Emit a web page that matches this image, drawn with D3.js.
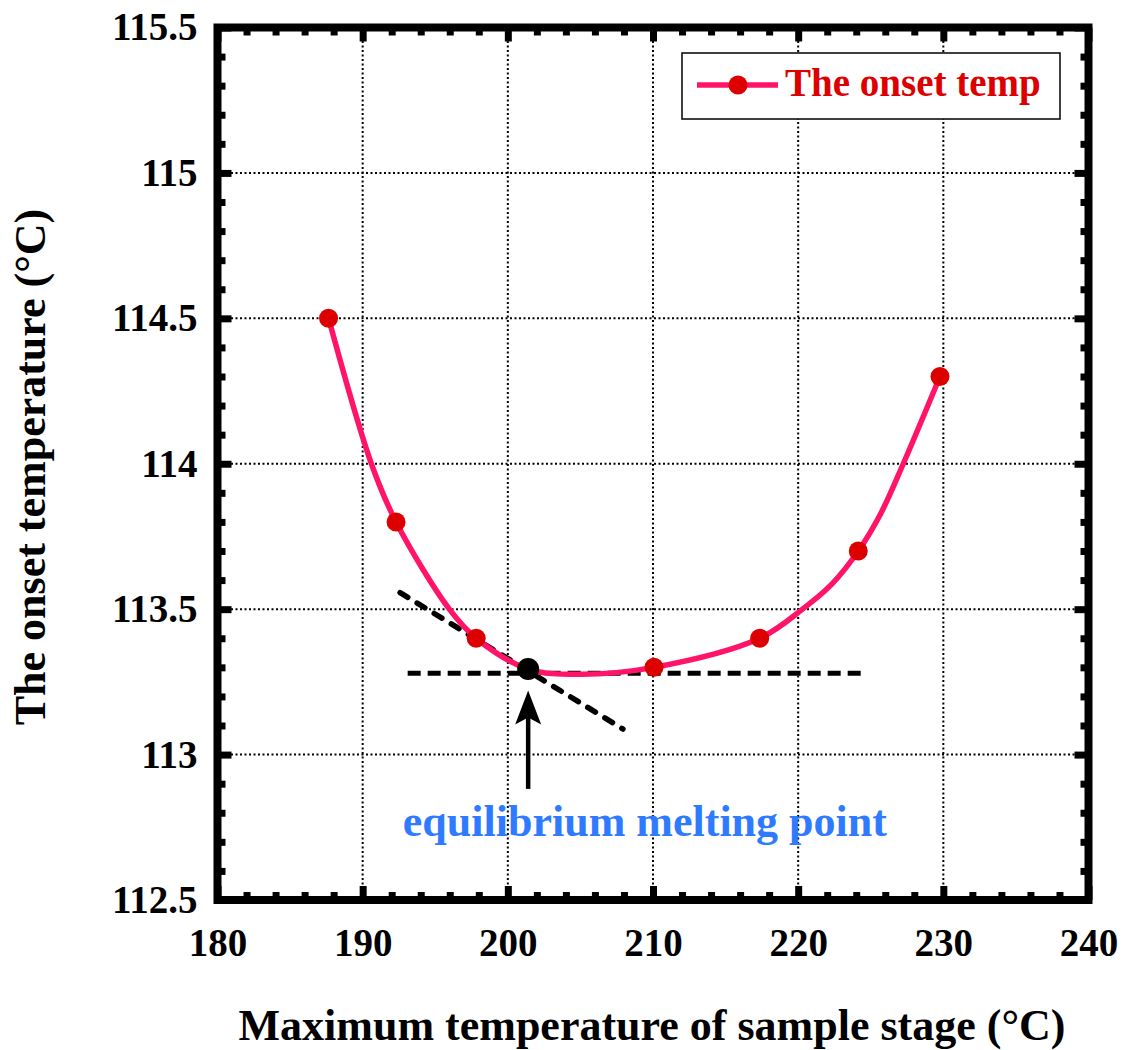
<!DOCTYPE html>
<html>
<head>
<meta charset="utf-8">
<script src="https://cdn.jsdelivr.net/npm/d3@7"></script>
<style>
  body { margin: 0; background: #fff; }
  svg text { font-family: "Liberation Serif", "DejaVu Serif", serif !important; font-weight: bold; }
</style>
</head>
<body>
<div id="chart"></div>
<script>
// measured onset temperatures
let stageTemp = [187.65, 192.3, 197.82, 210.07, 217.35, 224.14, 229.77];
let onsetTemp = [114.5, 113.8, 113.4, 113.3, 113.4, 113.7, 114.3];

// fitted curve
let fitX = [187.65, 190.6, 192.3, 195.97, 197.82, 201.4, 205.0, 210.07, 217.35, 220.3, 222.3, 224.14, 225.7, 227.24, 229.77];
let fitY = [114.5, 114.0, 113.8, 113.5, 113.4, 113.294, 113.276, 113.3, 113.4, 113.5, 113.585, 113.7, 113.83, 114.0, 114.3];

// construction lines
let tangentLine = [[192.58, 113.557], [207.93, 113.088]];
let flatLine = [[193.1, 113.28], [224.5, 113.28]];
let eqPoint = [201.4, 113.294];

let xTicks = [180, 190, 200, 210, 220, 230, 240];
let yTicks = [112.5, 113, 113.5, 114, 114.5, 115, 115.5];
let xGrid = [190, 200, 210, 220, 230];
let yGrid = [113, 113.5, 114, 114.5, 115];

let width = 1127, height = 1050;
let serif = '"Liberation Serif", "DejaVu Serif", serif';

let svg = d3.select("#chart").append("svg")
    .attr("width", width)
    .attr("height", height)
    .attr("font-family", serif);

let x = d3.scaleLinear().domain([180, 240]).range([217.5, 1088.5]);
let y = d3.scaleLinear().domain([112.5, 115.5]).range([900, 27.5]);

let xMinor = d3.range(180, 241, 2).filter(d => d % 10 !== 0);
let yMinor = d3.range(1125, 1156, 1).map(d => d / 10).filter(d => Math.round(d * 10) % 5 !== 0);

// grid
svg.append("g").selectAll("line.gx")
    .data(xGrid).enter().append("line")
    .attr("x1", d => x(d)).attr("x2", d => x(d))
    .attr("y1", y(115.5)).attr("y2", y(112.5))
    .attr("stroke", "#000").attr("stroke-width", 2)
    .attr("stroke-dasharray", "2,2.5");
svg.append("g").selectAll("line.gy")
    .data(yGrid).enter().append("line")
    .attr("x1", x(180)).attr("x2", x(240))
    .attr("y1", d => y(d)).attr("y2", d => y(d))
    .attr("stroke", "#000").attr("stroke-width", 2)
    .attr("stroke-dasharray", "2,2.5");

// axes, ticks pointing inward
function styleAxis(g) {
    g.attr("font-family", serif);
    g.select(".domain").remove();
    g.selectAll(".tick line").attr("stroke", "#000").attr("stroke-width", 7);
    g.selectAll(".tick text").attr("fill", "#000")
        .style("font-weight", "bold").style("font-size", "39px");
}

svg.append("g").attr("transform", `translate(0,${y(112.5)})`)
    .call(d3.axisBottom(x).tickValues(xTicks).tickSize(-14).tickPadding(28).tickFormat(d => d))
    .call(styleAxis);
svg.append("g").attr("transform", `translate(0,${y(112.5)})`)
    .call(d3.axisBottom(x).tickValues(xMinor).tickSize(-8).tickFormat(""))
    .call(styleAxis);
svg.append("g").attr("transform", `translate(0,${y(115.5)})`)
    .call(d3.axisTop(x).tickValues(xTicks).tickSize(-14).tickFormat(""))
    .call(styleAxis);
svg.append("g").attr("transform", `translate(0,${y(115.5)})`)
    .call(d3.axisTop(x).tickValues(xMinor).tickSize(-8).tickFormat(""))
    .call(styleAxis);

svg.append("g").attr("transform", `translate(${x(180)},0)`)
    .call(d3.axisLeft(y).tickValues(yTicks).tickSize(-14).tickPadding(20).tickFormat(d => String(d)))
    .call(styleAxis);
svg.append("g").attr("transform", `translate(${x(180)},0)`)
    .call(d3.axisLeft(y).tickValues(yMinor).tickSize(-8).tickFormat(""))
    .call(styleAxis);
svg.append("g").attr("transform", `translate(${x(240)},0)`)
    .call(d3.axisRight(y).tickValues(yTicks).tickSize(-14).tickFormat(""))
    .call(styleAxis);
svg.append("g").attr("transform", `translate(${x(240)},0)`)
    .call(d3.axisRight(y).tickValues(yMinor).tickSize(-8).tickFormat(""))
    .call(styleAxis);

// frame
svg.append("rect")
    .attr("x", x(180)).attr("y", y(115.5))
    .attr("width", x(240) - x(180)).attr("height", y(112.5) - y(115.5))
    .attr("fill", "none").attr("stroke", "#000").attr("stroke-width", 8);

// dashed construction lines
let line = d3.line().x(d => x(d[0])).y(d => y(d[1]));
svg.append("path").attr("d", line(flatLine))
    .attr("fill", "none").attr("stroke", "#000").attr("stroke-width", 5)
    .attr("stroke-dasharray", "13,7");
svg.append("path").attr("d", line(tangentLine))
    .attr("fill", "none").attr("stroke", "#000").attr("stroke-width", 5.5)
    .attr("stroke-linecap", "round")
    .attr("stroke-dasharray", "9,11");

// fitted curve
let fitData = fitX.map((d, i) => [d, fitY[i]]);
let curve = d3.line().x(d => x(d[0])).y(d => y(d[1])).curve(d3.curveCatmullRom.alpha(0.5));
svg.append("path").attr("d", curve(fitData))
    .attr("fill", "none").attr("stroke", "#ff1469").attr("stroke-width", 5.5);

// data points
svg.append("g").selectAll("circle")
    .data(stageTemp).enter().append("circle")
    .attr("cx", d => x(d))
    .attr("cy", (d, i) => y(onsetTemp[i]))
    .attr("r", 9.5)
    .attr("fill", "#dd0000");

// equilibrium point + arrow
svg.append("circle")
    .attr("cx", x(eqPoint[0])).attr("cy", y(eqPoint[1]))
    .attr("r", 11).attr("fill", "#000");

let ax = x(eqPoint[0]);
let tipY = y(113.22);
svg.append("line")
    .attr("x1", ax).attr("x2", ax)
    .attr("y1", y(112.882)).attr("y2", tipY + 20)
    .attr("stroke", "#000").attr("stroke-width", 4.5);
svg.append("path")
    .attr("d", `M${ax},${tipY} L${ax - 13},${tipY + 34} L${ax},${tipY + 27} L${ax + 13},${tipY + 34} Z`)
    .attr("fill", "#000");

svg.append("text")
    .attr("x", x(209.44)).attr("y", y(112.72))
    .attr("text-anchor", "middle")
    .attr("fill", "#2f7bff")
    .style("font-size", "44px")
    .text("equilibrium melting point");

// legend
let lg = svg.append("g");
lg.append("rect")
    .attr("x", 682).attr("y", 53).attr("width", 378).attr("height", 66)
    .attr("fill", "#fff").attr("stroke", "#000").attr("stroke-width", 1.5);
lg.append("line")
    .attr("x1", 697).attr("x2", 778).attr("y1", 85).attr("y2", 85)
    .attr("stroke", "#ff1469").attr("stroke-width", 5.5);
lg.append("circle")
    .attr("cx", 738).attr("cy", 85).attr("r", 9.5).attr("fill", "#dd0000");
lg.append("text")
    .attr("x", 785).attr("y", 96)
    .attr("fill", "#dd0000")
    .style("font-size", "39px")
    .text("The onset temp");

// axis titles
svg.append("text")
    .attr("x", 652).attr("y", 1040)
    .attr("text-anchor", "middle")
    .attr("fill", "#000")
    .style("font-size", "44px")
    .text("Maximum temperature of sample stage (°C)");

svg.append("text")
    .attr("transform", "translate(45,467) rotate(-90)")
    .attr("text-anchor", "middle")
    .attr("fill", "#000")
    .style("font-size", "44px")
    .text("The onset temperature (°C)");
</script>
</body>
</html>
